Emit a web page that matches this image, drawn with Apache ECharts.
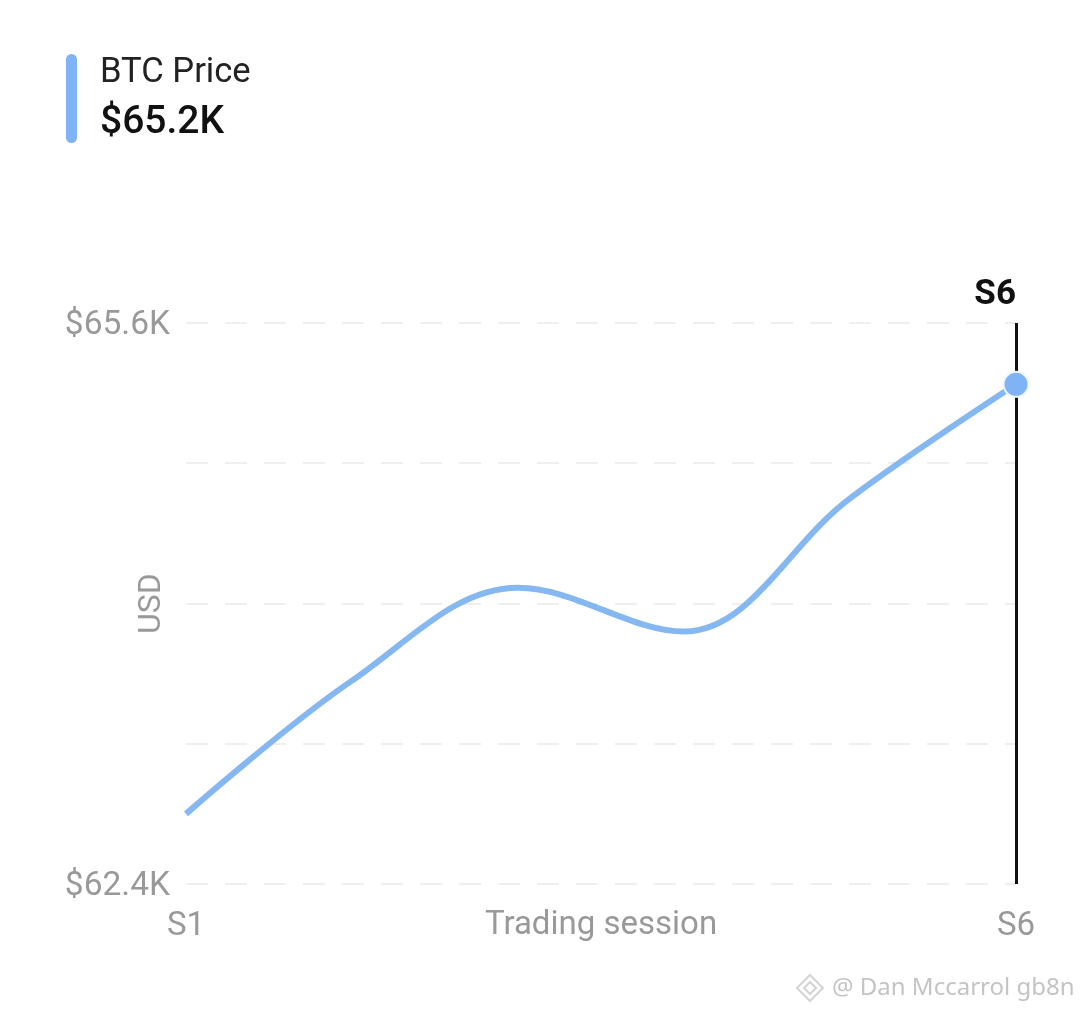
<!DOCTYPE html>
<html><head><meta charset="utf-8">
<style>html,body{margin:0;padding:0;background:#fff}#c{width:1080px;height:1012px}</style>
<script src="https://cdn.jsdelivr.net/npm/echarts@6/dist/echarts.min.js"></script>
</head><body><div id="c"></div>
<script>
const categories = ['S1','S2','S3','S4','S5','S6'];
const btcPrice = [62.8, 63.56, 64.09, 63.84, 64.6, 65.25];
const yMin = 62.4, yMax = 65.6, yStep = 0.8;
const seriesName = 'BTC Price', headline = '$65.2K';
const xName = 'Trading session', yName = 'USD', watermark = '@ Dan Mccarrol gb8n';
const font = 'Roboto, sans-serif';
const chart = echarts.init(document.getElementById('c'), null, {renderer:'canvas'});
const last = categories.length - 1;
chart.setOption({
  animation:false,
  backgroundColor:'#fff',
  textStyle:{fontFamily:font},
  graphic:[
    {type:'rect',left:66,top:54,shape:{width:11,height:89,r:5.5},style:{fill:'#7fb3f5'}},
    {type:'text',left:100,top:56,style:{text:seriesName,font:'400 34.6px '+font,fill:'#222'}},
    {type:'text',left:100,top:104,style:{text:headline,font:'500 39px '+font,fill:'#111'}},
    {type:'text',left:832,top:976,style:{text:watermark,font:'400 24px "Noto Sans", sans-serif',fill:'#c4c4c4'}},
    {type:'polygon',shape:{points:[[810,975],[823,988],[810,1001],[797,988]]},style:{fill:'none',stroke:'#d4d4d4',lineWidth:2}},
    {type:'polygon',shape:{points:[[810,982],[816,988],[810,994],[804,988]]},style:{fill:'none',stroke:'#d4d4d4',lineWidth:2}}
  ],
  grid:{left:186,right:64,top:323,bottom:128,containLabel:false},
  xAxis:{
    type:'category',data:categories,boundaryGap:false,
    name:xName,nameLocation:'middle',nameGap:25,nameMoveOverlap:false,
    nameTextStyle:{fontSize:33,color:'#999',fontFamily:font,verticalAlign:'top'},
    axisLine:{show:false},axisTick:{show:false},splitLine:{show:false},
    axisLabel:{fontSize:33,color:'#999',margin:26,verticalAlign:'top',
      interval:0,formatter:(v,i)=>(i===0||i===last)?v:''}
  },
  yAxis:{
    type:'value',min:yMin,max:yMax,interval:yStep,
    name:yName,nameLocation:'middle',nameGap:18,nameRotate:90,nameMoveOverlap:false,
    nameTextStyle:{fontSize:32,color:'#999',fontFamily:font},
    axisLine:{show:false},axisTick:{show:false},
    splitLine:{show:true,lineStyle:{color:'#efefef',width:2,type:[22,17]}},
    axisLabel:{margin:16,
      rich:{v:{fontSize:33.5,color:'#999',fontFamily:font,padding:[6,0,0,0]}},
      formatter:v=>(v===yMin||v===yMax)?'{v|$'+v.toFixed(1)+'K}':''}
  },
  series:[{
    type:'line',name:seriesName,data:btcPrice,smooth:0.36,
    showSymbol:true,symbol:'circle',
    symbolSize:(v,p)=>p.dataIndex===last?25:0,
    lineStyle:{color:'#85b7f0',width:6,cap:'butt'},
    itemStyle:{color:'#7fb3f5',borderColor:'#eef6ff',borderWidth:2},
    markLine:{silent:true,symbol:'none',animation:false,z:1,
      lineStyle:{color:'#111',width:3,type:'solid'},
      label:{show:true,position:'end',align:'right',verticalAlign:'bottom',formatter:categories[last],fontSize:35,fontWeight:700,color:'#111',fontFamily:font,distance:10},
      data:[{xAxis:categories[last]}]}
  }]
});
</script></body></html>
